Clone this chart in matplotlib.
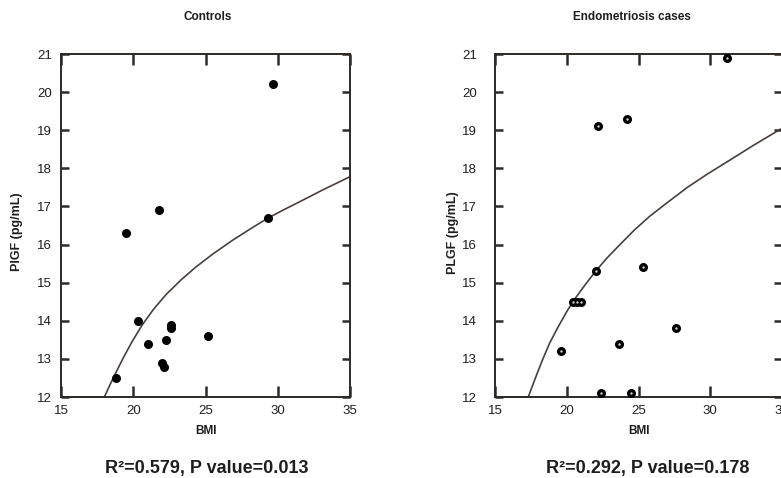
import matplotlib
matplotlib.use("Agg")
import matplotlib.pyplot as plt

plt.rcParams['font.family'] = ['Liberation Sans', 'DejaVu Sans']

# ---- Controls ----
ctrl_bmi = [29.7, 21.8, 19.5, 29.3, 20.3, 21.0, 22.3, 22.6, 22.6, 25.2, 22.0, 22.1, 18.8]
ctrl_plgf = [20.2, 16.9, 16.3, 16.7, 14.0, 13.4, 13.5, 13.9, 13.8, 13.6, 12.9, 12.8, 12.5]
# fitted curve (flat part lies on the x axis)
ctrl_fit_x = [15.0, 18.0, 18.4, 18.8, 19.3, 19.9, 20.6, 21.4, 22.3, 23.3, 24.3, 25.5,
              26.9, 28.1, 29.3, 30.4, 31.5, 33.2, 35.0]
ctrl_fit_y = [12.0, 12.0, 12.33, 12.64, 13.02, 13.44, 13.88, 14.3, 14.7, 15.07, 15.4, 15.75,
              16.12, 16.41, 16.69, 16.91, 17.12, 17.45, 17.78]

# ---- Endometriosis cases ----
endo_bmi = [31.2, 22.2, 24.2, 22.0, 25.3, 20.4, 20.7, 21.0, 19.6, 23.6, 27.6, 22.4, 24.5]
endo_plgf = [20.9, 19.1, 19.3, 15.3, 15.4, 14.5, 14.5, 14.5, 13.2, 13.4, 13.8, 12.1, 12.1]
endo_fit_x = [15.0, 17.3, 17.8, 18.3, 18.8, 19.4, 20.0, 20.6, 21.3, 22.0, 22.8, 23.7, 24.7,
              25.8, 27.0, 28.4, 29.8, 31.3, 33.0, 35.0]
endo_fit_y = [12.0, 12.0, 12.5, 12.98, 13.42, 13.85, 14.25, 14.6, 14.96, 15.3, 15.65, 16.0, 16.38,
              16.75, 17.1, 17.5, 17.85, 18.2, 18.6, 19.05]

xticks = [15, 20, 25, 30, 35]
yticks = [12, 13, 14, 15, 16, 17, 18, 19, 20, 21]

titles = ["Controls", "Endometriosis cases"]
ylabels = ["PIGF (pg/mL)", "PLGF (pg/mL)"]
stats = ["R\u00b2=0.579, P value=0.013", "R\u00b2=0.292, P value=0.178"]

W, H = 781, 478
fig = plt.figure(figsize=(W / 100, H / 100), dpi=100)

axes_px = [(61, 54, 289, 343), (495.3, 54, 286.6, 343)]
ypads = [6.5, 13]
title_x = [208, 632]
stat_x = [207, 648]
ylab_x = [17, 453]
ylab_y = [232, 233]

spine_col = "#2e2a28"
curve_col = "#4a403b"
text_col = "#1e1e1e"

for i, (l, t, w, h) in enumerate(axes_px):
    ax = fig.add_axes([l / W, (H - t - h) / H, w / W, h / H])
    if i == 0:
        ax.plot(ctrl_fit_x, ctrl_fit_y, color=curve_col, lw=1.2, zorder=2,
                clip_on=False, solid_joinstyle='round')
        ax.scatter(ctrl_bmi, ctrl_plgf, s=30, color="black", zorder=3, clip_on=False)
    else:
        ax.plot(endo_fit_x, endo_fit_y, color=curve_col, lw=1.2, zorder=2,
                clip_on=False, solid_joinstyle='round')
        ax.scatter(endo_bmi, endo_plgf, s=30, color="black", zorder=3, clip_on=False)
        ax.scatter(endo_bmi, endo_plgf, s=3, color="#d0d0d0", zorder=4,
                   clip_on=False, linewidths=0)
    ax.set_xlim(15, 35)
    ax.set_ylim(12, 21)
    ax.set_xticks(xticks)
    ax.set_yticks(yticks)
    ax.tick_params(axis='x', direction='in', length=8, width=1.8, top=True,
                   labelsize=9.5, pad=5.5, colors=spine_col, labelcolor=text_col)
    ax.tick_params(axis='y', direction='in', length=6, width=1.8, right=True,
                   labelsize=9.5, pad=ypads[i], colors=spine_col, labelcolor=text_col)
    for sp in ax.spines.values():
        sp.set_color(spine_col)
        sp.set_linewidth(1.4)
    ax.set_xlabel("BMI", fontsize=8.5, fontweight='bold', labelpad=6, color=text_col)

    fig.text(title_x[i] / W, 1 - 17 / H, titles[i], ha='center', va='center',
             fontsize=8.5, fontweight='bold', color=text_col)
    fig.text(stat_x[i] / W, 1 - 468 / H, stats[i], ha='center', va='center',
             fontsize=13, fontweight='bold', color=text_col)
    fig.text(ylab_x[i] / W, 1 - ylab_y[i] / H, ylabels[i], ha='center', va='center',
             rotation=90, fontsize=9, fontweight='bold', color=text_col)

fig.savefig("out.png", dpi=100)
